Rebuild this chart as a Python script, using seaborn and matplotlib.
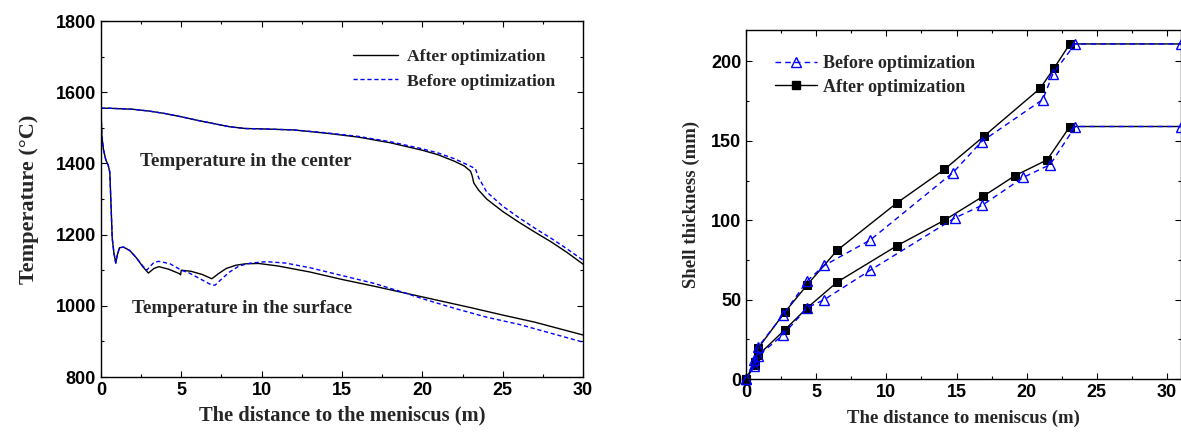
import matplotlib
matplotlib.use("Agg")
import matplotlib.pyplot as plt
import seaborn as sns
from matplotlib.ticker import MultipleLocator
from matplotlib.lines import Line2D

# ==============================
# DATA - temperature profiles (left panel)
# ==============================
center_after_x = [0, 0.5, 1, 2, 3, 4, 5, 6, 7, 8, 9, 10, 12, 14, 16, 18, 20, 21, 22,
                  22.6, 23.0, 23.1, 23.2, 23.5, 24, 25, 26, 27, 28, 29, 30]
center_after_t = [1555, 1555, 1554, 1552, 1547, 1540, 1531, 1521, 1512, 1503, 1498, 1497,
                  1494, 1485, 1474, 1458, 1437, 1424, 1406, 1393, 1378, 1365, 1345, 1325,
                  1300, 1265, 1235, 1207, 1180, 1150, 1117]
center_before_x = [0, 0.5, 1, 2, 3, 4, 5, 6, 7, 8, 9, 10, 12, 14, 16, 18, 20, 21, 22,
                   23, 23.3, 23.5, 24, 25, 26, 27, 28, 29, 30]
center_before_t = [1555, 1555, 1554, 1552, 1547, 1540, 1531, 1521, 1512, 1503, 1498, 1497,
                   1494, 1486, 1476, 1461, 1441, 1429, 1413, 1392, 1385, 1360, 1320,
                   1280, 1248, 1218, 1190, 1160, 1128]

surface_after_x = [0, 0.05, 0.15, 0.3, 0.45, 0.55, 0.62, 0.7, 0.8, 0.92, 1.0, 1.15, 1.4,
                   1.8, 2.2, 2.6, 2.95, 3.3, 3.6, 4.2, 4.9, 4.95, 5.0, 5.6, 6.3, 6.9, 7.3,
                   7.8, 8.4, 9.0, 9.8, 11, 13, 15, 17, 19, 21, 23, 25, 27, 29, 30]
surface_after_t = [1555, 1480, 1440, 1410, 1395, 1375, 1290, 1190, 1150, 1120, 1140, 1163,
                   1165, 1155, 1135, 1110, 1092, 1105, 1110, 1103, 1090, 1087, 1100, 1097,
                   1088, 1076, 1090, 1105, 1114, 1118, 1119, 1112, 1095, 1074, 1055, 1035,
                   1015, 995, 974, 954, 930, 918]
surface_before_x = [0, 0.05, 0.15, 0.3, 0.45, 0.55, 0.62, 0.7, 0.8, 0.92, 1.0, 1.15, 1.4,
                    1.8, 2.2, 2.6, 2.85, 3.0, 3.3, 3.6, 4.3, 5.0, 5.5, 6.2, 6.9, 7.1, 7.5,
                    8.0, 8.6, 9.3, 10.3, 11.5, 13, 15, 17, 19, 20, 22, 24, 26, 28, 30]
surface_before_t = [1555, 1480, 1440, 1410, 1395, 1375, 1290, 1190, 1150, 1120, 1140, 1163,
                    1165, 1155, 1135, 1112, 1100, 1108, 1122, 1125, 1118, 1100, 1092, 1075,
                    1058, 1058, 1075, 1095, 1112, 1120, 1124, 1120, 1107, 1085, 1063, 1035,
                    1020, 993, 968, 948, 923, 898]

# ==============================
# DATA - shell thickness (right panel)
# ==============================
upper_after_x = [0, 0.65, 0.87, 2.76, 4.38, 6.49, 10.77, 14.14, 16.97, 20.96, 21.97, 23.08, 31]
upper_after_y = [0, 11, 19.5, 42, 59.5, 81, 111, 132, 153, 183, 196, 211, 211]
upper_before_x = [0, 0.6, 0.85, 2.6, 4.38, 5.58, 8.85, 14.75, 16.79, 21.15, 21.86, 23.45, 31]
upper_before_y = [0, 12, 20, 40, 62, 71.5, 87.5, 130, 149.5, 176, 192, 211, 211]
lower_after_x = [0, 0.65, 0.87, 2.76, 4.38, 6.49, 10.77, 14.14, 16.89, 19.16, 21.46, 23.08, 31]
lower_after_y = [0, 9, 15, 31, 45, 61, 84, 100, 115, 128, 138, 159, 159]
lower_before_x = [0, 0.6, 0.85, 2.6, 4.38, 5.58, 8.85, 14.9, 16.85, 19.77, 21.67, 23.47, 31]
lower_before_y = [0, 8, 14.5, 27.5, 45, 50, 68.5, 101.5, 109.5, 127, 135, 159, 159]

# ==============================
# STYLE
# ==============================
sns.set_style("ticks")
plt.rcParams["font.family"] = ["Liberation Sans", "DejaVu Sans"]
plt.rcParams["font.weight"] = "bold"
SERIF = ["Liberation Serif", "DejaVu Serif"]
BLUE = "#0000FF"

fig = plt.figure(figsize=(11.81, 4.36), dpi=100)
ax1 = fig.add_axes([0.0855, 0.1353, 0.4082, 0.8165])
ax2 = fig.add_axes([0.6317, 0.1307, 0.3683, 0.7995])


def style_axes(ax):
    for s in ax.spines.values():
        s.set_linewidth(1.0)
        s.set_color("black")
    ax.tick_params(which="both", direction="in", top=True, right=True, width=0.8,
                   labelsize=13, colors="black")
    ax.tick_params(which="major", length=4.5)
    ax.tick_params(which="minor", length=2.5)
    for lab in ax.get_xticklabels() + ax.get_yticklabels():
        lab.set_fontweight("bold")


# ==============================
# LEFT PANEL
# ==============================
sns.lineplot(x=center_after_x, y=center_after_t, ax=ax1, color="black", lw=1.0,
             sort=False, estimator=None, label="After optimization")
sns.lineplot(x=center_before_x, y=center_before_t, ax=ax1, color=BLUE, lw=1.0,
             sort=False, estimator=None, linestyle=(0, (3, 2)), label="Before optimization")
sns.lineplot(x=surface_after_x, y=surface_after_t, ax=ax1, color="black", lw=1.0,
             sort=False, estimator=None)
sns.lineplot(x=surface_before_x, y=surface_before_t, ax=ax1, color=BLUE, lw=1.0,
             sort=False, estimator=None, linestyle=(0, (3, 2)))

ax1.set_xlim(0, 30)
ax1.set_ylim(800, 1800)
ax1.xaxis.set_major_locator(MultipleLocator(5))
ax1.xaxis.set_minor_locator(MultipleLocator(2.5))
ax1.yaxis.set_major_locator(MultipleLocator(200))
ax1.yaxis.set_minor_locator(MultipleLocator(100))
style_axes(ax1)
ax1.set_xlabel("The distance to the meniscus (m)", family=SERIF, fontweight="bold",
               fontsize=14.8, labelpad=5)
ax1.set_ylabel("Temperature (\u00b0C)", family=SERIF, fontweight="bold", fontsize=16,
               labelpad=12)
ax1.text(2.45, 1404, "Temperature in the center", family=SERIF, fontweight="bold",
         fontsize=13.7, va="center")
ax1.text(1.9, 992, "Temperature in the surface", family=SERIF, fontweight="bold",
         fontsize=13.7, va="center")
ax1.legend(loc="upper right", frameon=False, handlelength=2.6, handletextpad=0.5,
           prop={"family": SERIF, "weight": "bold", "size": 12.6},
           bbox_to_anchor=(0.975, 0.965), labelspacing=0.45)

# ==============================
# RIGHT PANEL
# ==============================
after_kw = dict(color="black", lw=1.0, marker="s", markersize=6, markeredgecolor="black",
                markerfacecolor="black", sort=False, estimator=None)
before_kw = dict(color=BLUE, lw=1.0, linestyle=(0, (4, 3)), marker="^", markersize=7,
                 markeredgecolor=BLUE, markerfacecolor="none", markeredgewidth=1.0,
                 sort=False, estimator=None)
sns.lineplot(x=upper_after_x, y=upper_after_y, ax=ax2,
             markevery=list(range(len(upper_after_x) - 1)), **after_kw)
sns.lineplot(x=lower_after_x, y=lower_after_y, ax=ax2,
             markevery=list(range(len(lower_after_x) - 1)), **after_kw)
sns.lineplot(x=upper_before_x, y=upper_before_y, ax=ax2, label="Before optimization",
             **before_kw)
sns.lineplot(x=lower_before_x, y=lower_before_y, ax=ax2, **before_kw)

ax2.set_xlim(0, 31)
ax2.set_ylim(0, 219.5)
ax2.xaxis.set_major_locator(MultipleLocator(5))
ax2.xaxis.set_minor_locator(MultipleLocator(2.5))
ax2.yaxis.set_major_locator(MultipleLocator(50))
ax2.yaxis.set_minor_locator(MultipleLocator(25))
style_axes(ax2)
for ln in ax2.lines:
    ln.set_clip_on(False)
ax2.set_xlabel("The distance to meniscus (m)", family=SERIF, fontweight="bold",
               fontsize=13.5, labelpad=6)
ax2.set_ylabel("Shell thickness (mm)", family=SERIF, fontweight="bold", fontsize=13.5,
               labelpad=8)

# legend: before first, then after
h, l = ax2.get_legend_handles_labels()
after_handle = Line2D([], [], color="black", lw=1.0, marker="s", markersize=6,
                      markerfacecolor="black", markeredgecolor="black")
ax2.legend([h[0], after_handle], ["Before optimization", "After optimization"],
           loc="upper left", frameon=False, handlelength=2.3, numpoints=1,
           bbox_to_anchor=(0.03, 0.975), labelspacing=0.35, handletextpad=0.35,
           prop={"family": SERIF, "weight": "bold", "size": 13})

fig.savefig("out.png", dpi=100)
